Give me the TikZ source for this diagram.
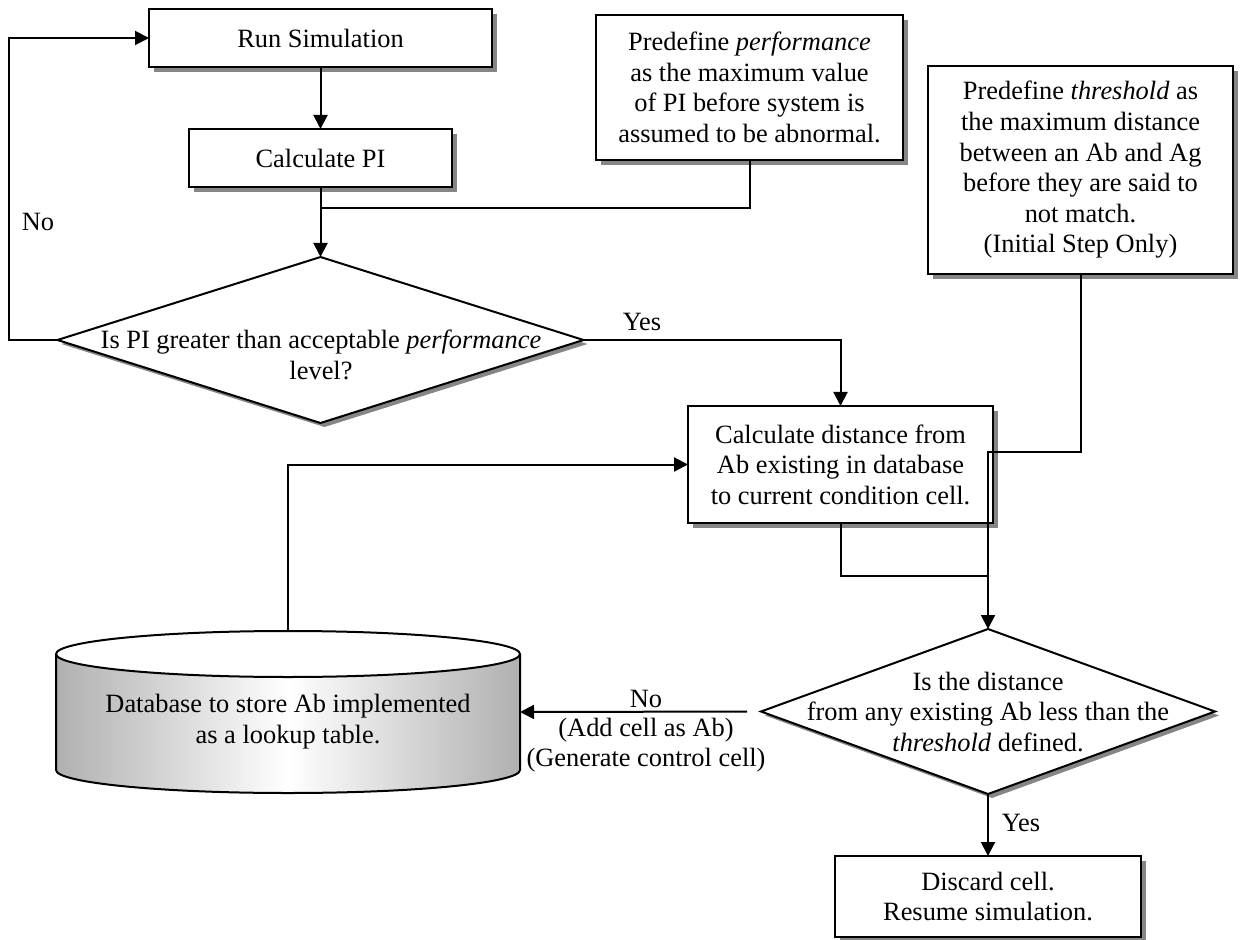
\documentclass[tikz,border=0pt]{standalone}
\usepackage{fontspec}
\setmainfont{Liberation Serif}
\usetikzlibrary{arrows.meta,shapes.geometric,shadows}
\definecolor{shadowgray}{HTML}{868686}

\begin{document}
\begin{tikzpicture}[x=0.5pt, y=-0.5pt, line join=miter,
		flow/.style={line width=1pt, -{Triangle[length=7pt,width=7pt]}},
		link/.style={line width=1pt},
		every node/.style={font=\fontsize{13.2pt}{15.3pt}\selectfont},
		stepbox/.style={draw, line width=1pt, fill=white, align=center, inner sep=0pt, outer sep=0pt,
			drop shadow={shadow xshift=2.5pt, shadow yshift=-2.5pt, fill=shadowgray, opacity=1}},
		decision/.style={diamond, draw, line width=1pt, fill=white, inner sep=0pt, outer sep=0pt,
			drop shadow={shadow xshift=2pt, shadow yshift=-2pt, fill=shadowgray, opacity=1}}]
		
		\useasboundingbox (0,0) rectangle (1245,940);
		
		% left column: simulation and PI check
		\node[stepbox, minimum width=171.5pt, minimum height=29pt] (runsim) at (320.5,38) {Run Simulation};
		\node[stepbox, minimum width=131.5pt, minimum height=29pt] (calcpi) at (320.5,158) {Calculate PI};
		\node[stepbox, minimum width=153.5pt, minimum height=72.5pt] (perfdef) at (749.5,87.5)
		{Predefine \textit{performance}\\as the maximum value\\of PI before system is\\assumed to be abnormal.};
		\node[decision, minimum width=263pt, minimum height=83pt] (perfq) at (320.5,340) {};
		\node[align=center, inner sep=0pt] (perfqtext) at (321,355)
		{Is PI greater than acceptable \textit{performance}\\level?};
		
		% right column: distance check
		\node[stepbox, minimum width=152.5pt, minimum height=104pt] (threshdef) at (1080.5,170)
		{Predefine \textit{threshold} as\\the maximum distance\\between an Ab and Ag\\before they are said to\\not match.\\(Initial Step Only)};
		\node[stepbox, minimum width=152.5pt, minimum height=58.5pt] (calcdist) at (840.5,464.5)
		{Calculate distance from\\Ab existing in database\\to current condition cell.};
		\node[decision, minimum width=227pt, minimum height=82.5pt] (distq) at (988,711.5) {};
		\node[align=center, inner sep=0pt] (distqtext) at (988,712)
		{Is the distance\\from any existing Ab less than the\\\textit{threshold} defined.};
		\node[stepbox, minimum width=153pt, minimum height=40.5pt] (discard) at (988,896.5)
		{Discard cell.\\Resume simulation.};
		
		% database cylinder
		\shade[left color=gray!62, right color=gray!62, middle color=white]
		(56,654) -- (56,770) arc[start angle=180, end angle=360, x radius=116pt, y radius=11.5pt] -- (520,654) -- cycle;
		\draw[link] (56,654) -- (56,770) arc[start angle=180, end angle=360, x radius=116pt, y radius=11.5pt] -- (520,654);
		\draw[link, fill=white] (288,654) ellipse [x radius=116pt, y radius=11.5pt];
		\coordinate (dbtop) at (288,631);
		\coordinate (dbside) at (520,712);
		\node[align=center, inner sep=0pt] (dbtext) at (288,721.5)
		{Database to store Ab implemented\\as a lookup table.};
		
		% connectors
		\draw[flow] (runsim) -- (calcpi);
		\draw[flow] (calcpi) -- (perfq);
		\coordinate (perfjoin) at (320.5,208);
		\draw[link] (perfdef.south) |- (perfjoin);
		\draw[flow] (perfq.west) -- ++(-49,0) |- (runsim.west);
		\node (nolbl) at (38,222) {No};
		\draw[flow] (perfq.east) -| (calcdist.north);
		\node (yeslbl) at (642,322) {Yes};
		\draw[flow] (dbtop) |- (calcdist.west);
		\coordinate (distjoin) at (988,576);
		\draw[link] (calcdist.south) |- (distjoin);
		\coordinate (threshbend) at (988,452);
		\draw[flow] (threshdef.south) |- (threshbend) -- (distq.north);
		\draw[flow, shorten <=7pt] (distq.west) -- (dbside);
		\node (nolbl2) at (646,699) {No};
		\node[align=center] (addlbl) at (646,745) {(Add cell as Ab)\\(Generate control cell)};
		\draw[flow] (distq.south) -- (discard.north);
		\node (yeslbl2) at (1021,823) {Yes};
		
	\end{tikzpicture}
\end{document}
